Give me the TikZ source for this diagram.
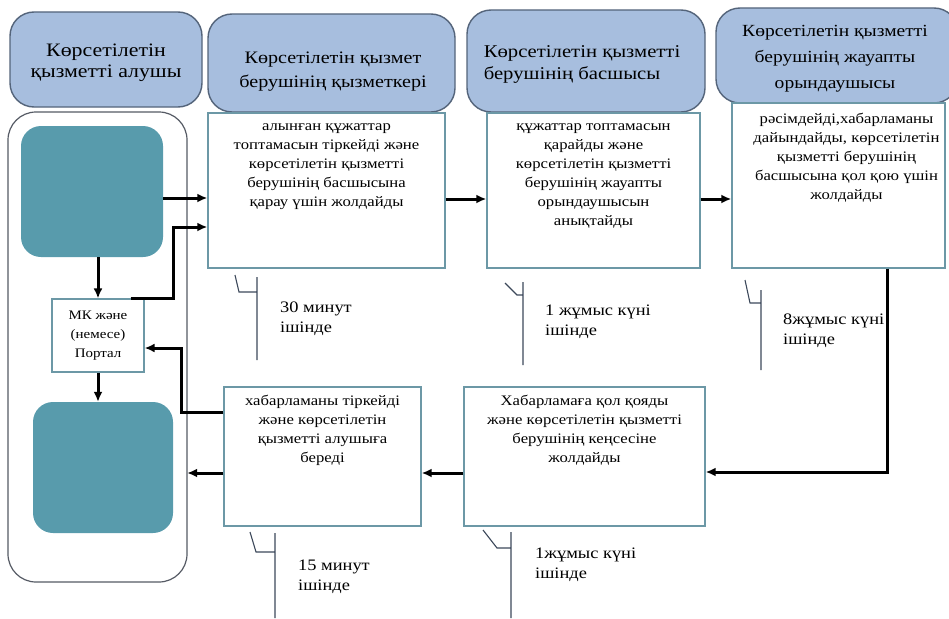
\documentclass[tikz,border=0pt]{standalone}
\usepackage{fontspec}
\setmainfont{Liberation Serif}[FakeStretch=1.15]
\usetikzlibrary{arrows.meta,positioning}
\definecolor{headfill}{RGB}{167,190,222}
\definecolor{headline}{RGB}{84,100,122}
\definecolor{tealfill}{RGB}{88,155,172}
\definecolor{boxline}{RGB}{108,152,166}
\definecolor{laneline}{RGB}{85,90,100}
\definecolor{markline}{RGB}{60,72,90}

\tikzset{
  header/.style={draw=headline, fill=headfill, line width=1.4pt, rounded corners=24pt,
    align=center, inner sep=0pt},
  procbox/.style={draw=boxline, line width=1.4pt, fill=white, inner sep=0pt},
  proctext/.style={align=center, font=\fontsize{14.5}{19}\selectfont, inner sep=0pt},
  tealbox/.style={fill=tealfill, rounded corners=20pt, inner sep=0pt},
  flow/.style={line width=3pt, -{Latex[length=10pt,width=9pt]}},
  timemark/.style={draw=markline, line width=1.1pt},
  timetext/.style={align=left, font=\fontsize{16}{20}\selectfont, inner sep=0pt, anchor=west},
}

\begin{document}
\begin{tikzpicture}[x=1pt,y=-1pt]
\useasboundingbox (0,0) rectangle (949,618);

% lane headers
\node[header, minimum width=192pt, minimum height=95pt] (hclient) at (106,59.5) {};
\node[font=\fontsize{19}{21}\selectfont, align=center] (hclienttext) at (106,63)
  {Көрсетілетін\\қызметті алушы};
\node[header, minimum width=247pt, minimum height=98pt] (hclerk) at (331.5,63) {};
\node[font=\fontsize{17.5}{24}\selectfont, align=center] (hclerktext) at (333,72)
  {Көрсетілетін қызмет\\берушінің қызметкері};
\node[header, minimum width=238pt, minimum height=102pt] (hhead) at (586,61) {};
\node[font=\fontsize{18}{22}\selectfont, align=left] (hheadtext) at (582,64)
  {Көрсетілетін қызметті\\берушінің басшысы};
\node[header, minimum width=242pt, minimum height=95pt] (hexec) at (837,55.5) {};
\node[font=\fontsize{17}{26}\selectfont, align=center] (hexectext) at (835,59)
  {Көрсетілетін қызметті\\берушінің жауапты\\орындаушысы};

% client lane
\draw[laneline, line width=1.2pt, rounded corners=28pt] (8,112) rectangle (187,582);
\node[minimum width=179pt, minimum height=470pt, inner sep=0pt] (lane) at (97.5,347) {};
\node[tealbox, minimum width=142pt, minimum height=131pt] (start) at (92,191.5) {};
\node[draw=boxline, line width=1.2pt, fill=white, minimum width=92pt, minimum height=73pt,
  inner sep=0pt, align=center, font=\fontsize{13}{19}\selectfont]
  (portal) at (98,335.5) {МК және\\(немесе)\\Портал};
\node[tealbox, minimum width=140pt, minimum height=131pt] (finish) at (103,467.5) {};

% process boxes
\node[procbox, minimum width=237pt, minimum height=155pt] (register) at (326.5,190.5) {};
\node[proctext, below=11pt of register.north] (registertext)
  {алынған құжаттар\\топтамасын тіркейді және\\көрсетілетін қызметті\\берушінің басшысына\\қарау үшін жолдайды};

\node[procbox, minimum width=213pt, minimum height=155pt] (review) at (593.5,190.5) {};
\node[proctext, below=11pt of review.north] (reviewtext)
  {құжаттар топтамасын\\қарайды және\\көрсетілетін қызметті\\берушінің жауапты\\орындаушысын\\анықтайды};

\node[procbox, minimum width=213pt, minimum height=165pt] (prepare) at (838.5,185.5) {};
\node[proctext, below=11pt of prepare.north, xshift=8pt] (preparetext)
  {рәсімдейді,хабарламаны\\дайындайды, көрсетілетін\\қызметті берушінің\\басшысына қол қою үшін\\жолдайды};

\node[procbox, minimum width=241pt, minimum height=139pt] (sign) at (584.5,456.5) {};
\node[proctext, below=9pt of sign.north] (signtext)
  {Хабарламаға қол қояды\\және көрсетілетін қызметті\\берушінің кеңсесіне\\жолдайды};

\node[procbox, minimum width=197pt, minimum height=139pt] (issue) at (322.5,456.5) {};
\node[proctext, below=9pt of issue.north] (issuetext)
  {хабарламаны тіркейді\\және көрсетілетін\\қызметті алушыға\\береді};

% arrows
\draw[flow] ([yshift=-6.5pt]start.east) -- ([yshift=-6.5pt]start.east -| register.west);
\draw[flow] ([xshift=-14pt]portal.north east) -- ++(43,0) |- ([yshift=-36.5pt]register.west);
\draw[flow] (portal.north |- start.south) -- (portal.north);
\draw[flow] (portal.south) -- (portal.south |- finish.north);
\draw[flow] ([yshift=-8.5pt]register.east) -- ([yshift=-8.5pt]register.east -| review.west);
\draw[flow] ([yshift=-8.5pt]review.east) -- ([yshift=-8.5pt]review.east -| prepare.west);
\draw[flow] ([xshift=48.5pt]prepare.south) |- ([yshift=-15.5pt]sign.east);
\draw[flow] ([yshift=-16.5pt]sign.west) -- ([yshift=-16.5pt]sign.west -| issue.east);
\draw[flow] ([yshift=44.5pt]issue.west) -- ++(-42,0) |- ([yshift=-12.5pt]portal.east);
\draw[flow] ([yshift=-16.5pt]issue.west) -- ([yshift=-16.5pt]issue.west -| lane.east);

% time marks
\draw[timemark] (235,275) -- (239,292) -- (257,292) (257,277) -- (257,360);
\node[timetext] (t1) at (280,318.5) {30 минут\\ішінде};
\draw[timemark] (505,283) -- (517,295) -- (523,295) (523,282) -- (523,365);
\node[timetext] (t2) at (545,322) {1 жұмыс күні\\ішінде};
\draw[timemark] (745,280) -- (750,303) -- (761,303) (761,290) -- (761,370);
\node[timetext] (t3) at (783,331) {8жұмыс күні\\ішінде};
\draw[timemark] (483,530) -- (497,548) -- (511,548) (511,532) -- (511,618);
\node[timetext] (t4) at (535,565) {1жұмыс күні\\ішінде};
\draw[timemark] (250,532) -- (256,552) -- (275,552) (275,533) -- (275,618);
\node[timetext] (t5) at (298,577) {15 минут\\ішінде};
\end{tikzpicture}
\end{document}
